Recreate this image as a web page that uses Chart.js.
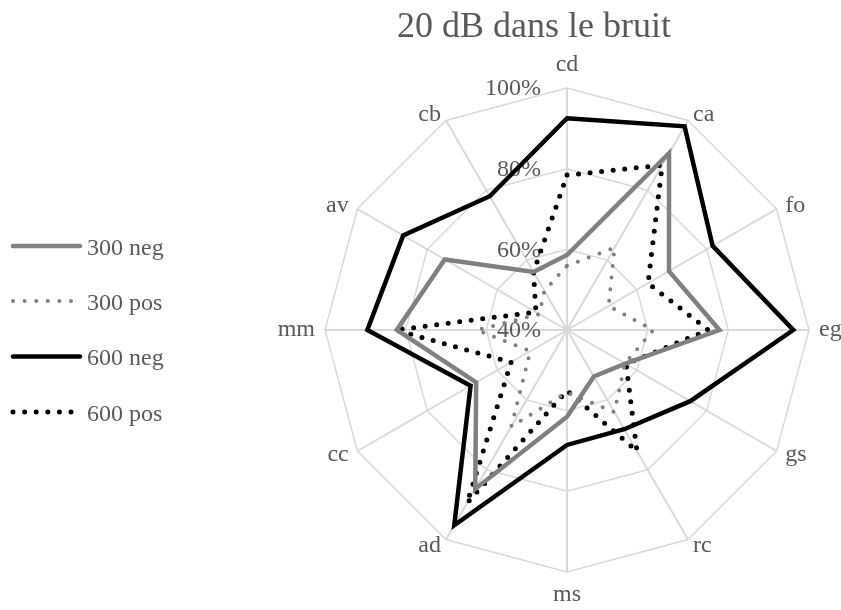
<!DOCTYPE html>
<html lang="fr">
<head>
<meta charset="utf-8">
<title>20 dB dans le bruit</title>
<script src="https://cdn.jsdelivr.net/npm/chart.js@4.4.1/dist/chart.umd.min.js"></script>
<style>
  html, body { margin: 0; padding: 0; background: #fff; }
  #wrap { position: relative; width: 841px; height: 610px; }
</style>
</head>
<body>
<div id="wrap"><canvas id="radarChart" width="841" height="610"></canvas></div>
<script>
/* ===== Data (in %) ===== */
const chartTitle  = '20 dB dans le bruit';
const categories  = ['cd', 'ca', 'fo', 'eg', 'gs', 'rc', 'ms', 'ad', 'cc', 'mm', 'av', 'cb'];
const seriesNames = ['300 neg', '300 pos', '600 neg', '600 pos'];
const neg300 = [58.6, 90.6, 69.2, 77.8, 56.7, 53.3, 61.5, 85.5, 66.0, 82.2, 75.0, 56.6];
const pos300 = [55.9, 63.6, 51.9, 61.4, 56.6, 63.5, 55.5, 67.6, 50.5, 62.3, 47.9, 51.2];
const neg600 = [92.5, 98.3, 81.7, 96.1, 75.3, 68.4, 68.5, 95.9, 67.6, 89.5, 86.9, 78.3];
const pos600 = [78.4, 87.2, 63.2, 75.0, 56.9, 74.7, 55.0, 89.6, 56.0, 82.6, 48.9, 56.6];
const tickValues = [40, 60, 80, 100];

document.addEventListener('DOMContentLoaded', () => {
  const serif    = '"Liberation Serif", "Times New Roman", serif';
  const textGrey = '#595959';
  const grey     = '#808080';

  // Excel-like extras: title, legend, tick labels and category labels
  const decorations = {
    id: 'decorations',
    beforeDatasetsDraw(chart) {
      const r = chart.scales.r;
      const ctx = chart.ctx;
      ctx.save();
      ctx.font = '24px ' + serif;
      ctx.fillStyle = textGrey;
      ctx.textAlign = 'right';
      ctx.textBaseline = 'middle';
      r.ticks.forEach(t => {
        const y = r.yCenter - r.getDistanceFromCenterForValue(t.value) + 1;
        ctx.fillText(t.value + '%', r.xCenter - 26, y);
      });
      ctx.restore();
    },
    afterDraw(chart) {
      const r = chart.scales.r;
      const ctx = chart.ctx;
      ctx.save();
      ctx.fillStyle = textGrey;

      // title
      ctx.font = '36px ' + serif;
      ctx.textAlign = 'center';
      ctx.textBaseline = 'alphabetic';
      ctx.fillText(chartTitle, 534, 37);

      // category labels
      ctx.font = '24px ' + serif;
      ctx.textBaseline = 'middle';
      categories.forEach((lab, i) => {
        const p = r.getPointPosition(i, r.drawingArea);
        const a = r.getIndexAngle(i);
        const sin = Math.sin(a), cos = Math.cos(a);
        const w = ctx.measureText(lab).width;
        let x = p.x, y = p.y;
        if (Math.abs(sin) < 0.01) {
          y -= Math.sign(cos) * 23;
        } else {
          x += Math.sign(sin) * (10 * Math.abs(sin) + w / 2);
          y -= cos * 7;
        }
        ctx.fillText(lab, x, y);
      });

      // legend
      const rows = [246, 301, 356.5, 412];
      chart.data.datasets.forEach((ds, i) => {
        const y = rows[i];
        ctx.beginPath();
        ctx.strokeStyle = ds.borderColor;
        ctx.lineWidth = ds.borderWidth;
        ctx.lineCap = 'round';
        ctx.setLineDash(ds.borderDash || []);
        ctx.moveTo(13, y);
        ctx.lineTo(80, y);
        ctx.stroke();
        ctx.setLineDash([]);
        ctx.textAlign = 'left';
        ctx.fillText(ds.label, 87, y + 2.5);
      });
      ctx.restore();
    }
  };

  const solid = (label, data, color) => ({
    label, data, borderColor: color, borderWidth: 4.5, fill: false,
    borderCapStyle: 'round', borderJoinStyle: 'miter'
  });
  const dotted = (label, data, color, width) => ({
    label, data, borderColor: color, borderWidth: width, fill: false,
    borderDash: [0, 11.6], borderCapStyle: 'round', borderJoinStyle: 'round'
  });

  new Chart(document.getElementById('radarChart'), {
    type: 'radar',
    data: {
      labels: categories,
      datasets: [
        solid(seriesNames[0], neg300, grey),
        dotted(seriesNames[1], pos300, grey, 4),
        solid(seriesNames[2], neg600, '#000000'),
        dotted(seriesNames[3], pos600, '#000000', 5)
      ]
    },
    options: {
      responsive: false,
      animation: false,
      devicePixelRatio: 1,
      layout: { padding: { left: 325, right: 32, top: 88, bottom: 38 } },
      elements: { point: { radius: 0, hoverRadius: 0 }, line: { tension: 0 } },
      plugins: {
        legend: { display: false },
        title: { display: false },
        tooltip: { enabled: false }
      },
      scales: {
        r: {
          min: 40,
          max: 100,
          afterBuildTicks: s => { s.ticks = tickValues.map(v => ({ value: v })); },
          ticks: { display: false },
          grid: { color: '#d9d9d9', lineWidth: 1.5 },
          angleLines: { color: '#d9d9d9', lineWidth: 2 },
          pointLabels: { display: false }
        }
      }
    },
    plugins: [decorations]
  });
});
</script>
</body>
</html>
